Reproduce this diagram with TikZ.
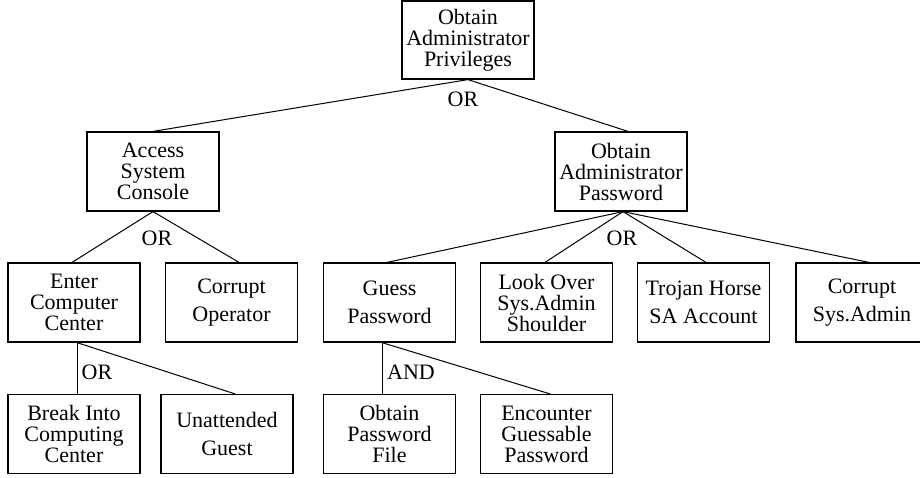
\documentclass[tikz,border=0pt]{standalone}
\usepackage{fontspec}
\setmainfont{Liberation Serif}
\usepackage{tikz}
\tikzstyle{box} = [draw,line width=0.6pt,minimum width=66pt,minimum height=39.5pt,inner sep=0.5pt,align=center,font=\fontsize{11}{10.5}\selectfont]
\tikzstyle{boxwide} = [box,font=\fontsize{11}{13.8}\selectfont]
\tikzstyle{gate} = [inner sep=0pt,font=\fontsize{11}{10.5}\selectfont]
\tikzstyle{link} = [line width=0.5pt]

\begin{document}
\begin{tikzpicture}[x=0.5pt,y=-0.5pt]
	\useasboundingbox (0,0) rectangle (920,477);
	% la meta
	\node[box,minimum height=39pt] (privileges) at (468,40) {Obtain\\Administrator\\Privileges};
	\foreach \Name/\Xc/\Yc/\Texto in 
	{console/153/171.5/{Access\\System\\Console}, password/621/171.5/{Obtain\\Administrator\\Password}, compcenter/74/302.5/{Enter\\Computer\\Center}, lookover/546.5/302.5/{Look Over\\Sys.Admin\\Shoulder}, breakin/74/434/{Break Into\\Computing\\Center}, pwfile/389.5/434/{Obtain\\Password\\File}, encounter/546.5/434/{Encounter\\Guessable\\Password}}
	{
		\node[box] (\Name) at (\Xc,\Yc) {\Texto};
	}
	\foreach \Name/\Xc/\Yc/\Texto in 
	{corruptop/231.5/302.5/{Corrupt\\Operator}, guess/389.5/302.5/{Guess\\Password}, trojan/703.5/302.5/{Trojan Horse\\SA Account}, corruptsa/862/302.5/{Corrupt\\Sys.Admin}, unattended/227/434/{Unattended\\Guest}}
	{
		\node[boxwide] (\Name) at (\Xc,\Yc) {\Texto};
	}
	% las ramas
	\foreach \From/\Sx/\To/\Ex in 
	{privileges/0/console/0, privileges/0/password/3.5, console/0/compcenter/-1, console/0/corruptop/3.75, password/1/guess/-1.25, password/1/lookover/-0.75, password/1/trojan/1.25, password/1/corruptsa/3.5, compcenter/1.5/breakin/1.5, compcenter/1.5/unattended/4, guess/-3.75/pwfile/-3.75, guess/-3.75/encounter/1.75}
	{
		\draw[link] ([xshift=\Sx pt]\From.south) -- ([xshift=\Ex pt]\To.north);
	}
	\foreach \Name/\Xc/\Yc/\Texto in 
	{gatetop/463/99/OR, gateconsole/157/238/OR, gatepassword/622/238/OR, gatecenter/97/372/OR, gateguess/411/372/AND}
	{
		\node[gate] (\Name) at (\Xc,\Yc) {\Texto};
	}
\end{tikzpicture}
\end{document}
